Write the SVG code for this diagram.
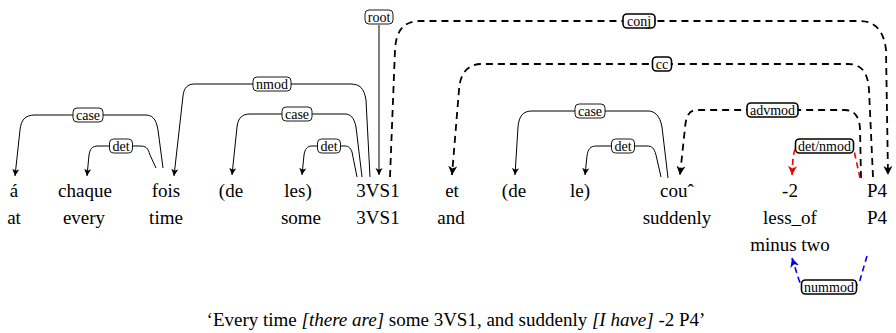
<svg xmlns="http://www.w3.org/2000/svg" width="896" height="333" viewBox="0 0 896 333">
<style>
.w{font-family:"Liberation Serif","Times New Roman",serif;font-size:19px;fill:#000;text-anchor:middle}
.l{font-family:"Liberation Serif","Times New Roman",serif;font-size:14px;fill:#000;text-anchor:middle}
.s{fill:none;stroke:#000;stroke-width:1}
.d{fill:none;stroke:#000;stroke-width:1.8;stroke-dasharray:7,5}
.r{fill:none;stroke:#e00;stroke-width:1.6;stroke-dasharray:6,4}
.b{fill:none;stroke:#00e;stroke-width:1.6;stroke-dasharray:6,4}
.bx{fill:#fff;stroke:#000;stroke-width:0.9}
.bxd{fill:#fff;stroke:#000;stroke-width:1.6}
</style>
<defs>
<marker id="as" markerWidth="8" markerHeight="8" viewBox="0 0 8 8" refX="7" refY="4" orient="auto" markerUnits="userSpaceOnUse"><path d="M0,0.5 L7,4 L0,7.5 L1.8,4 Z" fill="#000"/></marker>
<marker id="ad" markerWidth="10" markerHeight="10" viewBox="0 0 10 10" refX="9" refY="5" orient="auto" markerUnits="userSpaceOnUse"><path d="M0,0.5 L9,5 L0,9.5 L2.5,5 Z" fill="#000"/></marker>
<marker id="ar" markerWidth="10" markerHeight="10" viewBox="0 0 10 10" refX="9" refY="5" orient="auto" markerUnits="userSpaceOnUse"><path d="M0,0.5 L9,5 L0,9.5 L2.5,5 Z" fill="#e00"/></marker>
<marker id="ab" markerWidth="10" markerHeight="10" viewBox="0 0 10 10" refX="9" refY="5" orient="auto" markerUnits="userSpaceOnUse"><path d="M0,0.5 L9,5 L0,9.5 L2.5,5 Z" fill="#00e"/></marker>
</defs>
<g id="connectors">
<path class="s" marker-end="url(#as)" d="M163,168 L158,130 C156,118 152,115 145,115 L35,115 C25,115 21,120 20,130 L15,176"/>
<path class="s" marker-end="url(#as)" d="M156,168 L150,155 C148,148 146,146 140,146 L98,146 C92,146 90,149 89,155 L87,176"/>
<path class="s" marker-end="url(#as)" d="M370,177 L366,100 C364,88 360,84 350,84 L195,84 C187,84 184,88 183,96 L174,176"/>
<path class="s" marker-end="url(#as)" d="M362,177 L356,127 C354,117 350,114 345,114 L250,114 C242,114 238,118 237,127 L232,175"/>
<path class="s" marker-end="url(#as)" d="M357,177 L352,152 C350,147 348,146 344,146 L312,146 C307,146 305,149 304,155 L302,175"/>
<path class="s" marker-end="url(#as)" d="M379,25 L379,175"/>
<path class="d" marker-end="url(#ad)" d="M390,177 L395,50 C396,29 405,21 420,21 L860,21 C875,21 884,31 886,50 L888,175"/>
<path class="d" marker-end="url(#ad)" d="M873,177 L869,90 C868,73 862,64 848,64 L482,64 C468,64 460,73 459,90 L452,175"/>
<path class="d" marker-end="url(#ad)" d="M861,178 L860,128 C859,116 854,110 845,110 L697,110 C689,110 686,116 685,128 L680,175"/>
<path class="s" marker-end="url(#as)" d="M668,178 L662,127 C660,116 655,111 648,111 L532,111 C523,111 519,116 518,127 L515,175"/>
<path class="s" marker-end="url(#as)" d="M661,177 L656,155 C654,148 652,146 647,146 L597,146 C590,146 588,149 587,156 L585,175"/>
<path class="r" marker-end="url(#ar)" d="M860,178 L855,155 C854,149 852,146 848,146 L800,146 C796,146 794,150 793,158 L792,175"/>
<path class="b" marker-end="url(#ab)" d="M867,256 L860,280 C858,286 855,287 850,287 L808,287 C803,287 801,285 799,280 L792,258"/>
</g>
<g id="labels">
<g id="lab-case1"><rect class="bx" x="73" y="108" width="30" height="14" rx="4"/><text class="l" x="88" y="119.5">case</text></g>
<g id="lab-det1"><rect class="bx" x="109.5" y="139" width="23" height="14" rx="4"/><text class="l" x="121" y="150.5">det</text></g>
<g id="lab-nmod"><rect class="bx" x="253" y="77" width="38" height="14" rx="4"/><text class="l" x="272" y="88.5">nmod</text></g>
<g id="lab-case2"><rect class="bx" x="282" y="107" width="30" height="14" rx="4"/><text class="l" x="297" y="118.5">case</text></g>
<g id="lab-det2"><rect class="bx" x="317.5" y="139" width="23" height="14" rx="4"/><text class="l" x="329" y="150.5">det</text></g>
<g id="lab-root"><rect class="bx" x="365" y="10" width="28" height="14" rx="4"/><text class="l" x="379" y="21.5">root</text></g>
<g id="lab-conj"><rect class="bxd" x="623" y="14" width="32" height="14" rx="4"/><text class="l" x="639" y="25.5">conj</text></g>
<g id="lab-cc"><rect class="bxd" x="652.5" y="57" width="19" height="14" rx="4"/><text class="l" x="662" y="68.5">cc</text></g>
<g id="lab-advmod"><rect class="bxd" x="747" y="103" width="51" height="14" rx="4"/><text class="l" x="772.5" y="114.5">advmod</text></g>
<g id="lab-case3"><rect class="bx" x="575" y="104" width="30" height="14" rx="4"/><text class="l" x="590" y="115.5">case</text></g>
<g id="lab-det3"><rect class="bx" x="611.5" y="139" width="23" height="14" rx="4"/><text class="l" x="623" y="150.5">det</text></g>
<g id="lab-detnmod"><rect class="bxd" x="795.5" y="139" width="58" height="14" rx="4"/><text class="l" x="824.5" y="150.5">det/nmod</text></g>
<g id="lab-nummod"><rect class="bxd" x="801.5" y="280" width="55" height="14" rx="4"/><text class="l" x="829" y="291.5">nummod</text></g>
</g>
<g id="words">
<g id="w1"><text class="w" x="14" y="197">á</text><text class="w" x="14" y="224">at</text></g>
<g id="w2"><text class="w" x="85" y="197">chaque</text><text class="w" x="84" y="224">every</text></g>
<g id="w3"><text class="w" x="166" y="197">fois</text><text class="w" x="166" y="224">time</text></g>
<g id="w4"><text class="w" x="231" y="197">(de</text></g>
<g id="w5"><text class="w" x="298" y="197">les)</text><text class="w" x="301" y="224">some</text></g>
<g id="w6"><text class="w" x="378" y="197">3VS1</text><text class="w" x="378" y="224">3VS1</text></g>
<g id="w7"><text class="w" x="452" y="197">et</text><text class="w" x="451" y="224">and</text></g>
<g id="w8"><text class="w" x="514" y="197">(de</text></g>
<g id="w9"><text class="w" x="580" y="197">le)</text></g>
<g id="w10"><text class="w" x="677" y="197">couˆ</text><text class="w" x="677" y="224">suddenly</text></g>
<g id="w11"><text class="w" x="790" y="197">-2</text><text class="w" x="790" y="224">less_of</text><text class="w" x="790" y="251">minus two</text></g>
<g id="w12"><text class="w" x="877" y="197">P4</text><text class="w" x="877" y="224">P4</text></g>
</g>
<text class="w" x="456" y="326">‘Every time <tspan font-style="italic">[there are]</tspan> some 3VS1, and suddenly <tspan font-style="italic">[I have]</tspan> -2 P4’</text>
</svg>
